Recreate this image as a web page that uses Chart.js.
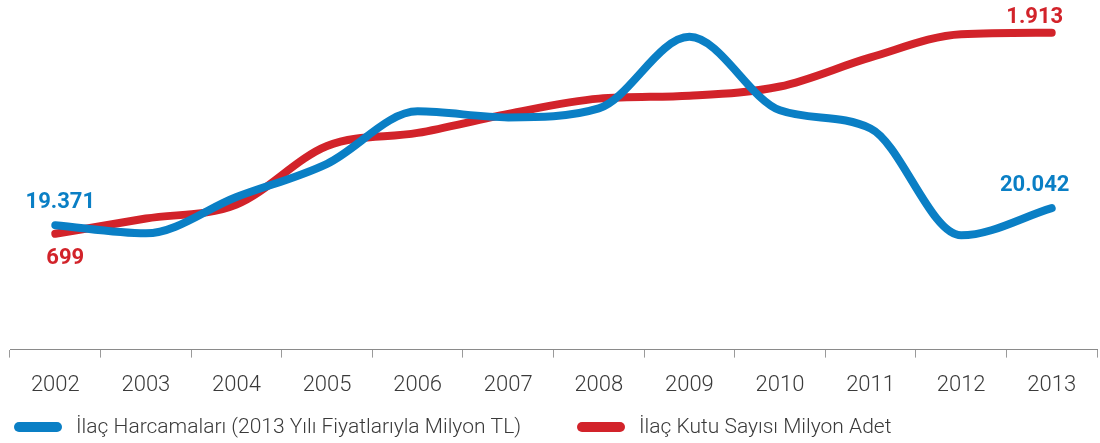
<!DOCTYPE html>
<html>
<head>
<meta charset="utf-8">
<script src="https://cdn.jsdelivr.net/npm/chart.js@4.4.0/dist/chart.umd.min.js"></script>
<style>
  html, body { margin: 0; padding: 0; background: #fff; }
  #wrap { width: 1100px; height: 443px; position: relative; }
</style>
</head>
<body>
<div id="wrap"><canvas id="ilac-chart"></canvas></div>
<script>
// Data
const years = ['2002', '2003', '2004', '2005', '2006', '2007', '2008', '2009', '2010', '2011', '2012', '2013'];
// İlaç harcamaları, milyon TL (2013 fiyatlarıyla)
const harcama = [19371, 19055, 20476, 21778, 23830, 23594, 23949, 26750, 23870, 23160, 18976, 20042];
// İlaç kutu sayısı, milyon adet
const kutu = [699, 791, 876, 1229, 1308, 1423, 1515, 1533, 1588, 1764, 1904, 1913];

const harcamaLabel = 'İlaç Harcamaları (2013 Yılı Fiyatlarıyla Milyon TL)';
const kutuLabel = 'İlaç Kutu Sayısı Milyon Adet';

const BLUE = '#0a7fc5';
const RED = '#d2232a';
const TEXT = '#3a3a3a';

// Turkish style thousands separator: 19371 -> 19.371
function fmt(v) {
    return String(v).replace(/\B(?=(\d{3})+(?!\d))/g, '.');
}

// Draws the first/last value labels next to the line ends
const endLabels = {
    id: 'endLabels',
    afterDatasetsDraw(chart) {
        const ctx = chart.ctx;
        ctx.save();
        ctx.font = '700 22px Roboto';
        ctx.textAlign = 'center';
        ctx.textBaseline = 'alphabetic';
        chart.data.datasets.forEach((ds, i) => {
            const meta = chart.getDatasetMeta(i);
            const last = meta.data.length - 1;
            [[0, ds.firstOffset], [last, ds.lastOffset]].forEach(([idx, off]) => {
                const pt = meta.data[idx];
                ctx.fillStyle = ds.borderColor;
                ctx.fillText(fmt(ds.data[idx]), pt.x + off[0], pt.y + off[1]);
            });
        });
        ctx.restore();
    }
};

// Simple bottom legend with rounded swatches
const bottomLegend = {
    id: 'bottomLegend',
    afterDraw(chart) {
        const ctx = chart.ctx;
        const y = 427;
        const items = [
            { x: 14, color: BLUE, text: harcamaLabel },
            { x: 577, color: RED, text: kutuLabel }
        ];
        ctx.save();
        ctx.font = '300 21px Roboto';
        ctx.textBaseline = 'middle';
        items.forEach(it => {
            ctx.fillStyle = it.color;
            ctx.beginPath();
            ctx.roundRect(it.x, y - 5, 48, 10, 5);
            ctx.fill();
            ctx.fillStyle = TEXT;
            ctx.fillText(it.text, it.x + 62, y + 1);
        });
        ctx.restore();
    }
};

const ctx = document.getElementById('ilac-chart').getContext('2d');
const chart = new Chart(ctx, {
    type: 'line',
    data: {
        labels: years,
        datasets: [
            {
                label: harcamaLabel,
                data: harcama,
                yAxisID: 'y',
                borderColor: BLUE,
                borderWidth: 8,
                borderCapStyle: 'round',
                borderJoinStyle: 'round',
                pointRadius: 0,
                tension: 0.4,
                cubicInterpolationMode: 'monotone',
                fill: false,
                firstOffset: [5, -17],
                lastOffset: [-17, -17]
            },
            {
                label: kutuLabel,
                data: kutu,
                yAxisID: 'y1',
                borderColor: RED,
                borderWidth: 8,
                borderCapStyle: 'round',
                borderJoinStyle: 'round',
                pointRadius: 0,
                tension: 0.4,
                cubicInterpolationMode: 'monotone',
                fill: false,
                firstOffset: [10, 30],
                lastOffset: [-17, -10]
            }
        ]
    },
    options: {
        responsive: true,
        maintainAspectRatio: false,
        animation: false,
        layout: { padding: { left: 10, right: 3, top: 10, bottom: 29 } },
        plugins: {
            legend: { display: false },
            tooltip: { enabled: false }
        },
        scales: {
            x: {
                type: 'category',
                offset: true,
                grid: {
                    offset: true,
                    drawOnChartArea: false,
                    drawTicks: true,
                    tickLength: 8,
                    color: '#9a9a9a'
                },
                border: { display: true, color: '#8a8a8a', width: 1 },
                ticks: {
                    color: TEXT,
                    padding: 15,
                    maxRotation: 0,
                    font: { family: 'Roboto', weight: '300', size: 22 }
                }
            },
            y: {
                display: false,
                min: 14500,
                max: 27800
            },
            y1: {
                display: false,
                min: 0,
                max: 2050
            }
        }
    },
    plugins: [endLabels, bottomLegend]
});
</script>
</body>
</html>
